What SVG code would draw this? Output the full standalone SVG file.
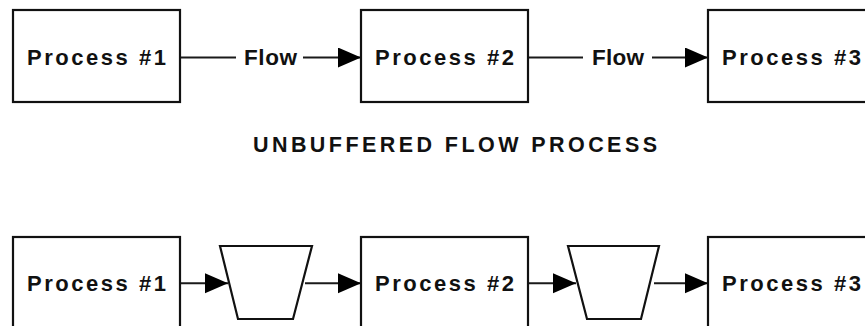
<svg xmlns="http://www.w3.org/2000/svg" width="865" height="326" viewBox="0 0 865 326">
<style>
.box{fill:#fff;stroke:#111;stroke-width:2.2}
.buf{fill:#fff;stroke:#111;stroke-width:2.2;stroke-linejoin:miter}
.ln{stroke:#1a1a1a;stroke-width:2;fill:none}
.t{font-family:"Liberation Sans",Arial,sans-serif;font-weight:bold;font-size:22px;fill:#111}
.f{font-family:"Liberation Sans",Arial,sans-serif;font-weight:bold;font-size:22.5px;fill:#111}
.title{font-family:"Liberation Sans",Arial,sans-serif;font-weight:bold;font-size:21.5px;fill:#111}
</style>
<defs>
<marker id="ah" markerUnits="userSpaceOnUse" markerWidth="25" markerHeight="21" refX="23" refY="10" orient="auto">
<path d="M0,0 L23,10 L0,20 z" fill="#000"/>
</marker>
</defs>
<rect width="865" height="326" fill="#fff"/>
<g id="connectors">
<line class="ln" x1="181" y1="57.5" x2="236" y2="57.5"/>
<line class="ln" x1="303" y1="57.5" x2="361" y2="57.5" marker-end="url(#ah)"/>
<line class="ln" x1="529" y1="57.5" x2="583" y2="57.5"/>
<line class="ln" x1="652" y1="57.5" x2="708" y2="57.5" marker-end="url(#ah)"/>
<text class="f" x="244" y="65" textLength="53" lengthAdjust="spacing">Flow</text>
<text class="f" x="592" y="65" textLength="52" lengthAdjust="spacing">Flow</text>
<line class="ln" x1="181" y1="283.3" x2="228" y2="283.3" marker-end="url(#ah)"/>
<line class="ln" x1="305" y1="283.3" x2="361" y2="283.3" marker-end="url(#ah)"/>
<line class="ln" x1="529" y1="283.3" x2="576" y2="283.3" marker-end="url(#ah)"/>
<line class="ln" x1="654" y1="283.3" x2="708" y2="283.3" marker-end="url(#ah)"/>
</g>
<g id="p1-top"><rect class="box" x="13" y="10" width="167" height="92"/><text class="t" x="27" y="65" textLength="139" lengthAdjust="spacing">Process #1</text></g>
<g id="p2-top"><rect class="box" x="361" y="10" width="167" height="92"/><text class="t" x="375" y="65" textLength="139" lengthAdjust="spacing">Process #2</text></g>
<g id="p3-top"><rect class="box" x="708" y="10" width="170" height="92"/><text class="t" x="722" y="65" textLength="139" lengthAdjust="spacing">Process #3</text></g>
<g id="title"><text class="title" x="253" y="152" textLength="404" lengthAdjust="spacing">UNBUFFERED FLOW PROCESS</text></g>
<g id="p1-bot"><rect class="box" x="13" y="237" width="167" height="100"/><text class="t" x="27" y="291" textLength="139" lengthAdjust="spacing">Process #1</text></g>
<g id="buf1"><polygon class="buf" points="220,246 312,246 293,319 238,319"/></g>
<g id="p2-bot"><rect class="box" x="361" y="237" width="167" height="100"/><text class="t" x="375" y="291" textLength="139" lengthAdjust="spacing">Process #2</text></g>
<g id="buf2"><polygon class="buf" points="568,246 659,246 641,319 587,319"/></g>
<g id="p3-bot"><rect class="box" x="708" y="237" width="170" height="100"/><text class="t" x="722" y="291" textLength="139" lengthAdjust="spacing">Process #3</text></g>
</svg>
